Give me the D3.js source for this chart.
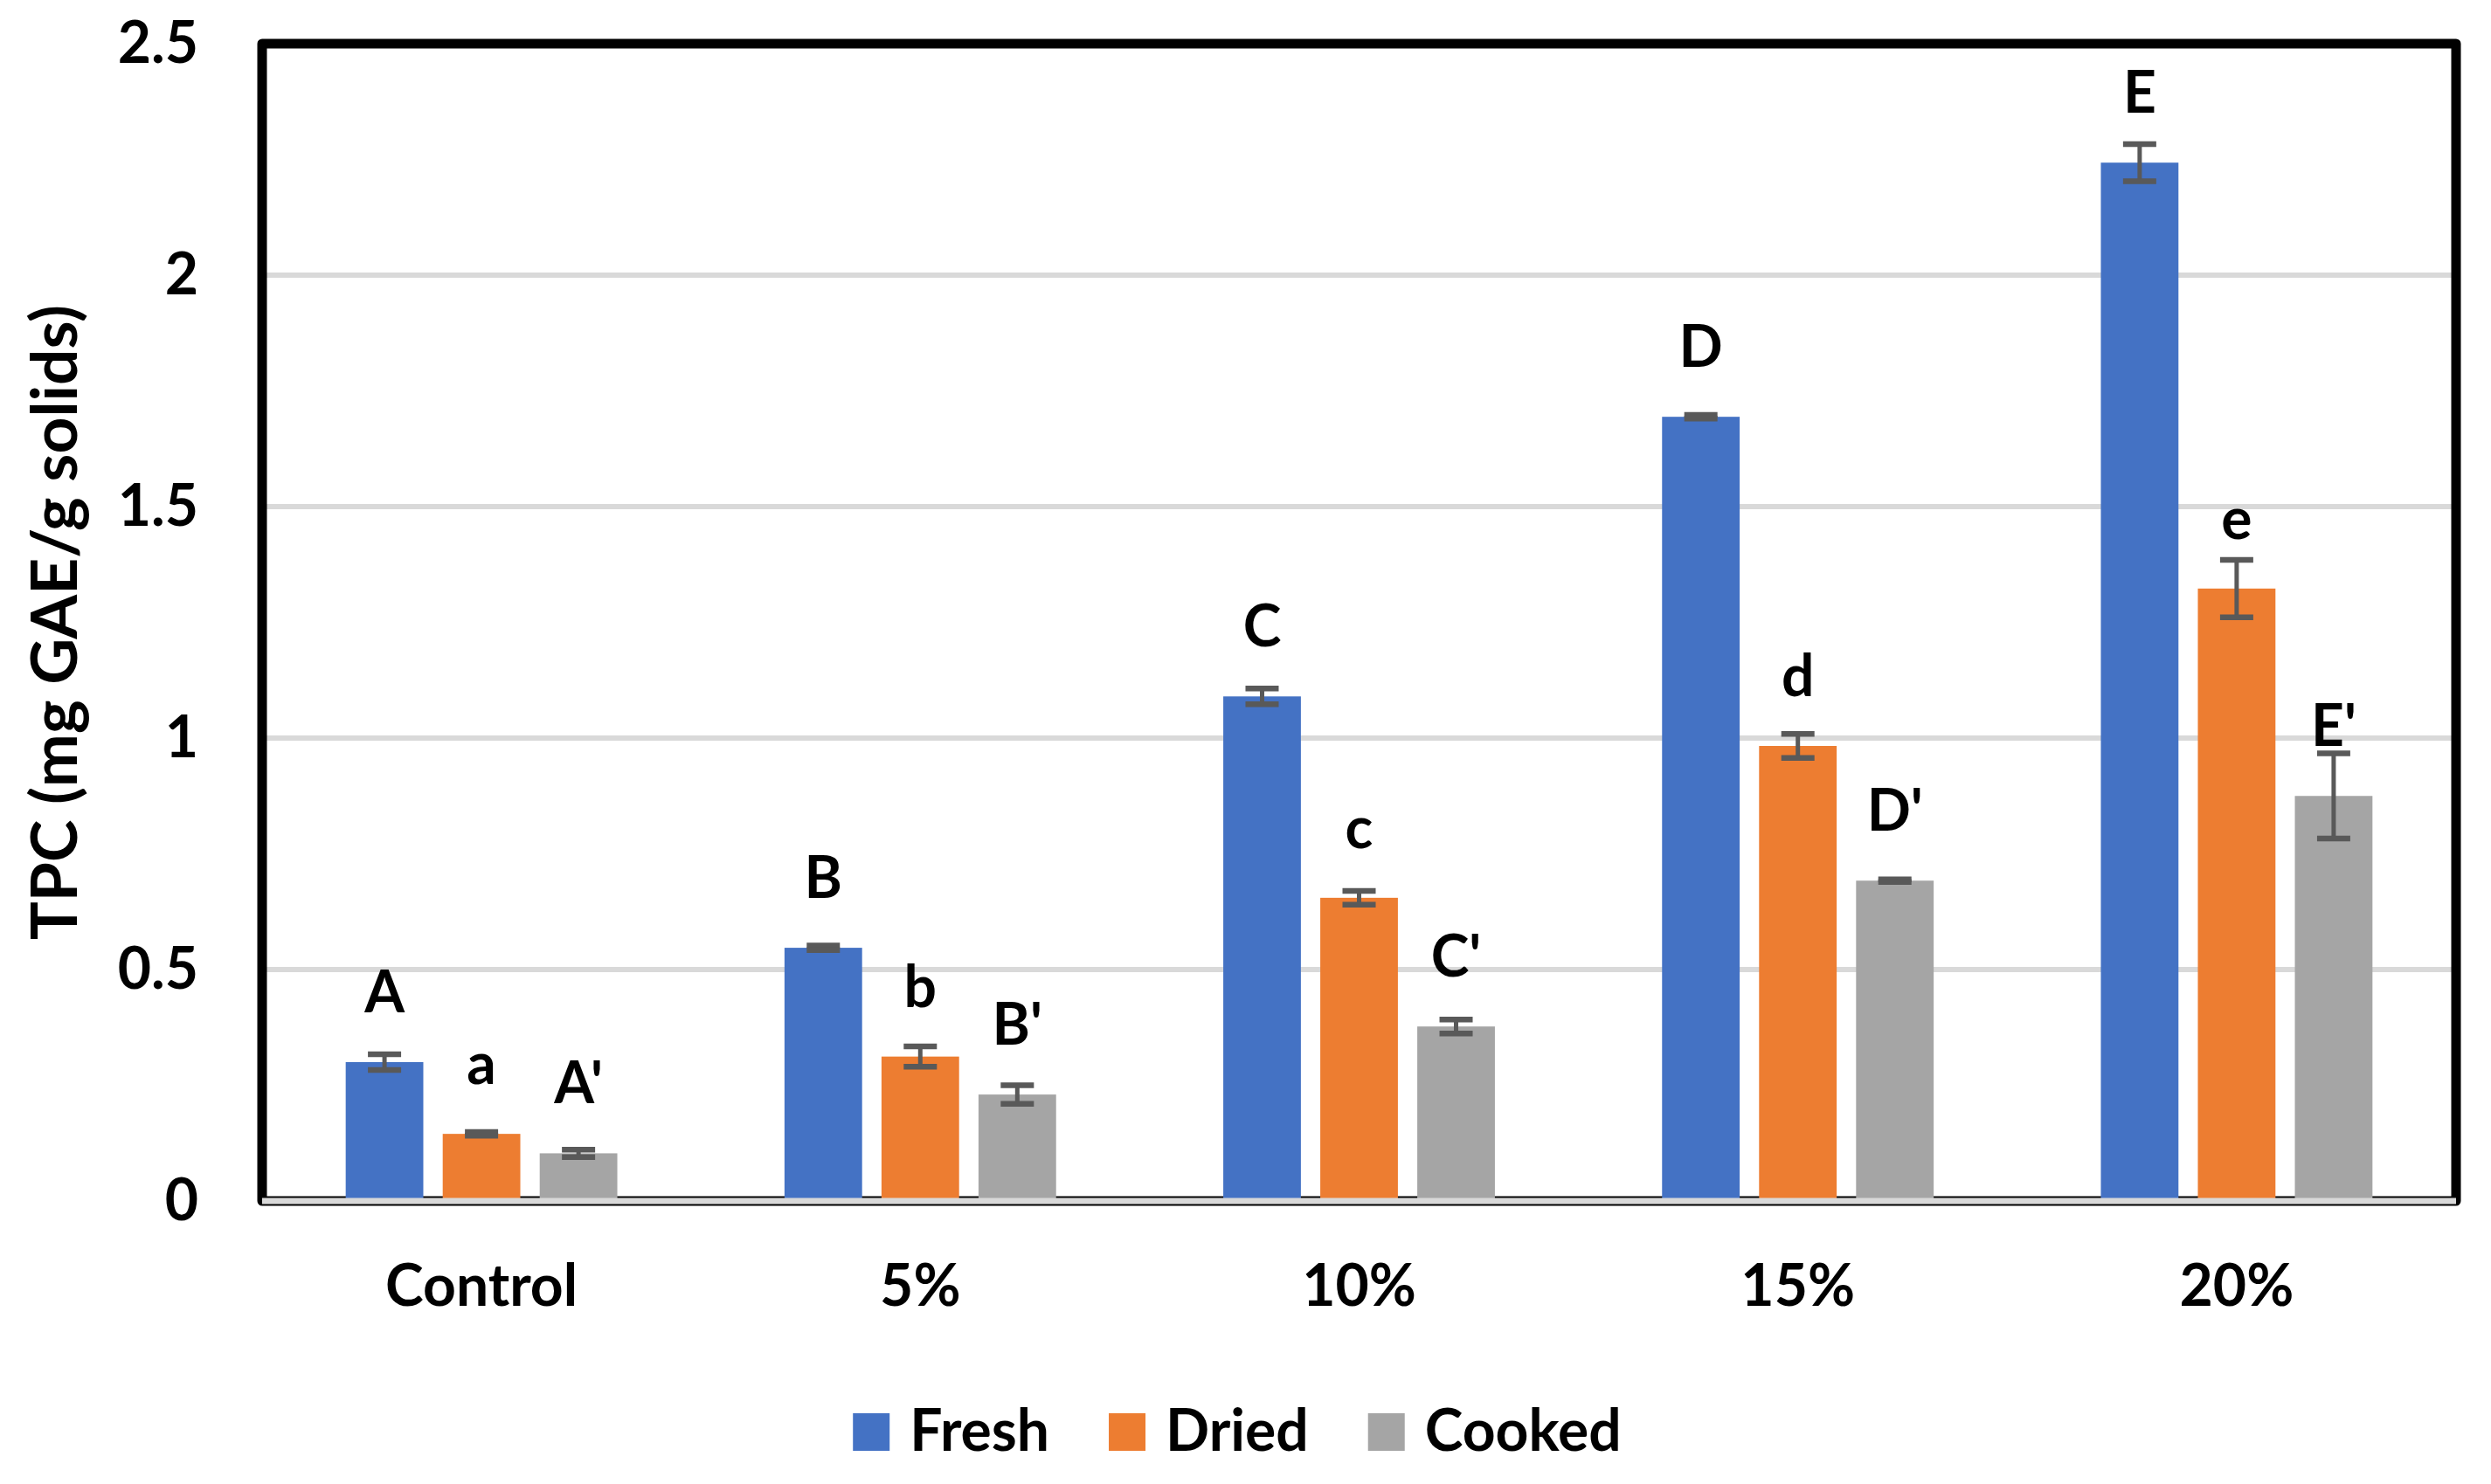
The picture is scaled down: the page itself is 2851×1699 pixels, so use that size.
<!DOCTYPE html>
<html>
<head>
<meta charset="utf-8">
<script src="https://cdn.jsdelivr.net/npm/d3@7"></script>
<style>
  body { margin: 0; background: #fff; }
  text { font-family: Lato, "Open Sans", "Liberation Sans", sans-serif; font-weight: bold; fill: #000; }
</style>
</head>
<body>
<script>
// TPC bar chart, fresh / dried / cooked, with error bars and letter labels
(function(){

// data
var categories = ["Control", "5%", "10%", "15%", "20%"];
var seriesNames = ["Fresh", "Dried", "Cooked"];
var seriesColors = ["#4472C4", "#ED7D31", "#A5A5A5"];

var freshVals  = [0.300, 0.547, 1.090, 1.694, 2.243];
var driedVals  = [0.145, 0.312, 0.655, 0.983, 1.323];
var cookedVals = [0.103, 0.230, 0.377, 0.692, 0.875];

var freshErr  = [0.017, 0.005, 0.017, 0.004, 0.040];
var driedErr  = [0.004, 0.022, 0.015, 0.026, 0.062];
var cookedErr = [0.008, 0.020, 0.015, 0.003, 0.092];

var freshLetters  = ["A", "B", "C", "D", "E"];
var driedLetters  = ["a", "b", "c", "d", "e"];
var cookedLetters = ["A'", "B'", "C'", "D'", "E'"];

var yTicks = [0, 0.5, 1, 1.5, 2, 2.5];
var yTitle = "TPC (mg GAE/g solids)";

// frame dimensions
var width = 2851,
    height = 1699;
var plot = {left: 300, right: 2811, top: 50, bottom: 1375};

var svg = d3.select("body")
    .append("svg")
    .attr("width", width)
    .attr("height", height);

// build rows for each bar
var vals = [freshVals, driedVals, cookedVals],
    errs = [freshErr, driedErr, cookedErr],
    lets = [freshLetters, driedLetters, cookedLetters];
var rows = [];
categories.forEach(function(c, i){
  seriesNames.forEach(function(s, j){
    rows.push({cat: c, series: s, color: seriesColors[j], value: vals[j][i], err: errs[j][i], letter: lets[j][i]});
  });
});

// scales
var x0 = d3.scaleBand()
    .domain(categories)
    .range([plot.left, plot.right])
    .paddingInner(0.381)
    .paddingOuter(0.1905);

var x1 = d3.scaleBand()
    .domain(seriesNames)
    .range([0, x0.bandwidth()])
    .paddingInner(0.2);

var y = d3.scaleLinear()
    .domain([0, 2.5])
    .range([plot.bottom, plot.top]);

// gridlines
svg.append("g").selectAll("line")
    .data(yTicks.filter(function(d){ return d > 0; }))
    .enter()
    .append("line")
    .attr("x1", plot.left)
    .attr("x2", plot.right)
    .attr("y1", function(d){ return y(d); })
    .attr("y2", function(d){ return y(d); })
    .attr("stroke", "#D9D9D9")
    .attr("stroke-width", 6);

// black frame round the plot area
svg.append("rect")
    .attr("x", plot.left)
    .attr("y", plot.top)
    .attr("width", plot.right - plot.left)
    .attr("height", plot.bottom - plot.top)
    .attr("fill", "none")
    .attr("stroke", "#000")
    .attr("stroke-width", 11)
    .attr("stroke-linejoin", "round");

// bars
svg.append("g").selectAll("rect")
    .data(rows)
    .enter()
    .append("rect")
    .attr("x", function(d){ return x0(d.cat) + x1(d.series); })
    .attr("y", function(d){ return y(d.value); })
    .attr("width", x1.bandwidth())
    .attr("height", function(d){ return y(0) - y(d.value); })
    .attr("fill", function(d){ return d.color; });

// grey category axis line on the frame bottom
svg.append("line")
    .attr("x1", plot.left)
    .attr("x2", plot.right)
    .attr("y1", y(0))
    .attr("y2", y(0))
    .attr("stroke", "#D9D9D9")
    .attr("stroke-width", 7);

// error bars
var eb = svg.append("g")
    .attr("stroke", "#595959");
var capHalf = 19;
rows.forEach(function(d){
  var cx = x0(d.cat) + x1(d.series) + x1.bandwidth() / 2;
  var yHi = y(d.value + d.err),
      yLo = y(d.value - d.err);
  eb.append("line").attr("x1", cx).attr("x2", cx).attr("y1", yHi).attr("y2", yLo).attr("stroke-width", 5);
  eb.append("line").attr("x1", cx - capHalf).attr("x2", cx + capHalf).attr("y1", yHi).attr("y2", yHi).attr("stroke-width", 6.5);
  eb.append("line").attr("x1", cx - capHalf).attr("x2", cx + capHalf).attr("y1", yLo).attr("y2", yLo).attr("stroke-width", 6.5);
});

// letter labels above the bars
svg.append("g").selectAll("text")
    .data(rows)
    .enter()
    .append("text")
    .attr("x", function(d){ return x0(d.cat) + x1(d.series) + x1.bandwidth() / 2; })
    .attr("y", function(d){ return y(d.value) - 57; })
    .attr("text-anchor", "middle")
    .style("font-size", "66px")
    .text(function(d){ return d.letter; });

// y axis
var yAxis = svg.append("g")
    .attr("transform", "translate(" + plot.left + ",0)")
    .call(d3.axisLeft(y).tickValues(yTicks).tickSize(0).tickPadding(73).tickFormat(d3.format("")));
yAxis.select(".domain").remove();
yAxis.attr("font-family", null).attr("font-size", null);
yAxis.selectAll("text")
    .attr("fill", "#000")
    .style("font-size", "66px");

// x axis
var xAxis = svg.append("g")
    .attr("transform", "translate(0," + plot.bottom + ")")
    .call(d3.axisBottom(x0).tickSize(0));
xAxis.select(".domain").remove();
xAxis.attr("font-family", null).attr("font-size", null);
xAxis.selectAll("text")
    .attr("y", 120)
    .attr("dy", 0)
    .attr("fill", "#000")
    .style("font-size", "66px");

// y axis title
svg.append("text")
    .attr("transform", "translate(88," + (plot.top + plot.bottom) / 2 + ") rotate(-90)")
    .attr("text-anchor", "middle")
    .style("font-size", "73px")
    .text(yTitle);

// legend, measured then centred
var legend = svg.append("g");
var lx = 0;
seriesNames.forEach(function(s, j){
  var item = legend.append("g").attr("transform", "translate(" + lx + ",0)");
  item.append("rect")
    .attr("x", 0)
    .attr("y", -43)
    .attr("width", 42)
    .attr("height", 43)
    .attr("fill", seriesColors[j]);
  var t = item.append("text")
    .attr("x", 65)
    .attr("y", 0)
    .style("font-size", "66px")
    .text(s);
  lx += 65 + t.node().getComputedTextLength() + 68;
});
var legendW = lx - 68;
legend.attr("transform", "translate(" + (1416 - legendW / 2) + ",1661)");

})();
</script>
</body>
</html>
